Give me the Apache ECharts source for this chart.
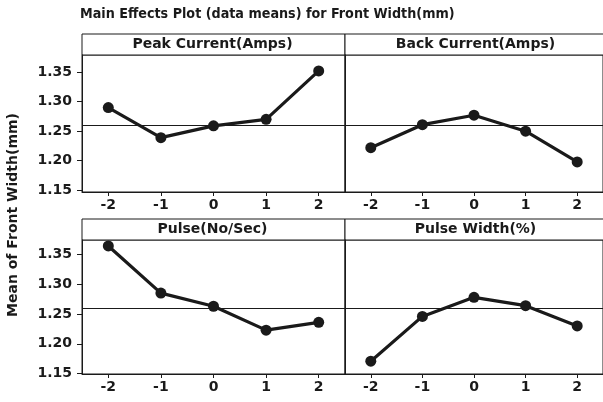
<!DOCTYPE html>
<html>
<head>
<meta charset="utf-8">
<script src="https://cdn.jsdelivr.net/npm/echarts@6/dist/echarts.min.js"></script>
<style>
html, body { margin: 0; padding: 0; background: #fff; }
#main { width: 603px; height: 402px; }
</style>
</head>
<body>
<div id="main"></div>
<script>
// data
var levels = ['-2', '-1', '0', '1', '2'];
var factorNames = ['Peak Current(Amps)', 'Back Current(Amps)', 'Pulse(No/Sec)', 'Pulse Width(%)'];
var peakCurrent = [1.290, 1.239, 1.259, 1.270, 1.352];
var backCurrent = [1.222, 1.261, 1.277, 1.250, 1.198];
var pulseRate = [1.364, 1.285, 1.263, 1.223, 1.236];
var pulseWidth = [1.171, 1.246, 1.278, 1.264, 1.230];
var grandMean = 1.259;
var yTicks = [1.15, 1.20, 1.25, 1.30, 1.35];

var allSeries = [peakCurrent, backCurrent, pulseRate, pulseWidth];

var chart = echarts.init(document.getElementById('main'));

var font = 'DejaVu Sans';
var ink = '#1a1a1a';

// panel layout: left, top of plot area, width, height, y range
var panels = [
    {left: 82, top: 55, width: 263, height: 137, min: 1.147, max: 1.379, yLabels: true},
    {left: 345, top: 55, width: 263, height: 137, min: 1.147, max: 1.379, yLabels: false},
    {left: 82, top: 240, width: 263, height: 134, min: 1.1495, max: 1.374, yLabels: true},
    {left: 345, top: 240, width: 263, height: 134, min: 1.1495, max: 1.374, yLabels: false}
];
var stripHeight = 21;

var grids = [], xAxes = [], yAxes = [], series = [], graphics = [];

panels.forEach(function (p, i) {
    grids.push({
        left: p.left, top: p.top, width: p.width, height: p.height,
        show: true, borderColor: ink, borderWidth: 1, containLabel: false
    });
    xAxes.push({
        type: 'category',
        gridIndex: i,
        data: levels,
        boundaryGap: true,
        axisLine: {show: true, lineStyle: {color: ink, width: 1}},
        axisTick: {show: true, alignWithLabel: true, length: 4, lineStyle: {color: ink}},
        axisLabel: {color: ink, fontFamily: font, fontWeight: 'bold', fontSize: 14, margin: 6},
        splitLine: {show: false}
    });
    yAxes.push({
        type: 'value',
        gridIndex: i,
        min: p.min,
        max: p.max,
        axisLine: {show: true, lineStyle: {color: ink, width: 1}},
        axisTick: {show: p.yLabels, length: 5, lineStyle: {color: ink}, customValues: yTicks},
        axisLabel: {
            show: p.yLabels, color: ink, fontFamily: font, fontWeight: 'bold', fontSize: 14, margin: 10,
            customValues: yTicks,
            formatter: function (v) { return v.toFixed(2); }
        },
        splitLine: {show: false}
    });
    series.push({
        type: 'line',
        xAxisIndex: i,
        yAxisIndex: i,
        data: allSeries[i],
        symbol: 'circle',
        symbolSize: 11,
        lineStyle: {color: ink, width: 3.2},
        itemStyle: {color: ink},
        markLine: {
            silent: true,
            symbol: 'none',
            label: {show: false},
            lineStyle: {color: ink, width: 1, type: 'solid'},
            data: [{yAxis: grandMean}]
        }
    });
    // title strip on top of each panel
    graphics.push({
        type: 'rect',
        shape: {x: p.left, y: p.top - stripHeight, width: p.width, height: stripHeight},
        style: {fill: '#fff', stroke: ink, lineWidth: 1}
    });
    graphics.push({
        type: 'text',
        x: p.left + p.width / 2 - 1,
        y: p.top - stripHeight / 2,
        style: {
            text: factorNames[i], fill: ink, font: 'bold 14px "DejaVu Sans"',
            align: 'center', verticalAlign: 'middle'
        }
    });
});

graphics.push({
    type: 'text',
    x: 13, y: 215, rotation: Math.PI / 2,
    style: {
        text: 'Mean of Front Width(mm)', fill: ink, font: 'bold 14px "DejaVu Sans"',
        align: 'center', verticalAlign: 'middle'
    }
});

var option = {
    backgroundColor: '#fff',
    animation: false,
    title: {
        text: 'Main Effects Plot (data means) for Front Width(mm)',
        left: 75, top: 2,
        textStyle: {color: ink, fontFamily: '"DejaVu Sans Condensed", "DejaVu Sans"', fontWeight: 'bold', fontSize: 14.2}
    },
    grid: grids,
    xAxis: xAxes,
    yAxis: yAxes,
    series: series,
    graphic: graphics
};

chart.setOption(option);
</script>
</body>
</html>
